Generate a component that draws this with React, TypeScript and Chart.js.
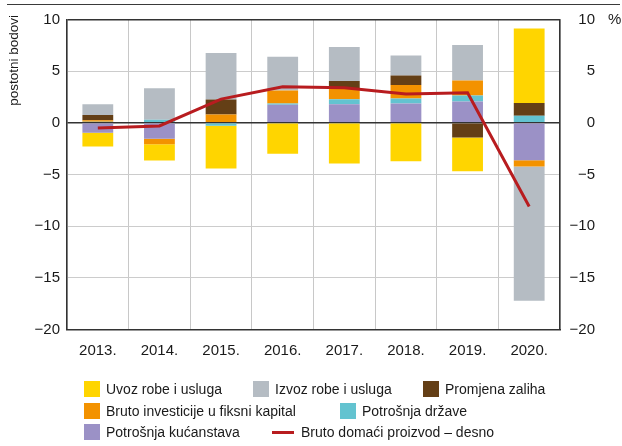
import React, { useEffect, useRef } from 'react';
import { Chart, registerables } from 'chart.js';
Chart.register(...registerables);

const years = ['2013.', '2014.', '2015.', '2016.', '2017.', '2018.', '2019.', '2020.'];
const households = [-0.97, -1.55, 0, 1.74, 1.8, 1.87, 2.06, -3.61];
const government = [0.1, 0.29, -0.29, 0.13, 0.48, 0.48, 0.58, 0.68];
const investment = [0.15, -0.52, 0.8, 1.26, 1.0, 1.32, 1.45, -0.61];
const inventories = [0.52, 0, 1.45, 0, 0.77, 0.9, -1.42, 1.23];
const exportsGS = [1.03, 3.06, 4.52, 3.26, 3.29, 1.94, 3.45, -13.0];
const importsGS = [-1.32, -1.58, -4.13, -3.0, -3.94, -3.71, -3.26, 7.23];
const gdp = [-0.5, -0.3, 2.3, 3.5, 3.4, 2.8, 2.9, -8.1];

const FONT = '"Liberation Sans", Arial, sans-serif';
const TEXT = '#1a1a1a';

const C = {
  yellow: '#ffd500',
  gray: '#b5bcc3',
  brown: '#643f16',
  orange: '#f39200',
  teal: '#63c3d0',
  purple: '#9b91c6',
  red: '#b81c1f',
};

const legendRows = [
  [
    { label: 'Uvoz robe i usluga', color: C.yellow, x: 84 },
    { label: 'Izvoz robe i usluga', color: C.gray, x: 253 },
    { label: 'Promjena zaliha', color: C.brown, x: 423 },
  ],
  [
    { label: 'Bruto investicije u fiksni kapital', color: C.orange, x: 84 },
    { label: 'Potrošnja države', color: C.teal, x: 340 },
  ],
  [
    { label: 'Potrošnja kućanstava', color: C.purple, x: 84 },
    { label: 'Bruto domaći proizvod – desno', color: C.red, x: 272, line: true },
  ],
];
const rowY = [389, 410.5, 432];

const minusFmt = (v: number) => (v < 0 ? '\u2212' + Math.abs(v) : String(v));

const overlay = {
  id: 'overlay',
  afterDraw(chart: any) {
    const ctx = chart.ctx;
    const y2 = chart.scales.y2;
    ctx.save();
    ctx.fillStyle = TEXT;
    ctx.font = `15px ${FONT}`;
    ctx.textAlign = 'left';
    ctx.textBaseline = 'middle';
    ctx.fillText('%', chart.chartArea.right + 48, y2.getPixelForValue(10) + 0.5);
    ctx.font = `13.5px ${FONT}`;
    ctx.translate(14, 15);
    ctx.rotate(-Math.PI / 2);
    ctx.textAlign = 'right';
    ctx.fillText('postotni bodovi', 0, 0);
    ctx.restore();
  },
};

export default function App() {
  const ref = useRef<HTMLCanvasElement>(null);
  useEffect(() => {
    if (!ref.current) return;
    const bar = (label: string, data: number[], color: string) => ({
      type: 'bar' as const,
      label,
      data,
      backgroundColor: color,
      borderWidth: 0,
      yAxisID: 'y',
      order: 1,
      barPercentage: 0.5,
      categoryPercentage: 1,
    });
    const chart = new Chart(ref.current, {
      type: 'bar',
      data: {
        labels: years,
        datasets: [
          {
            type: 'line' as const,
            label: 'Bruto domaći proizvod – desno',
            data: gdp,
            borderColor: C.red,
            backgroundColor: C.red,
            borderWidth: 3,
            pointRadius: 0,
            tension: 0,
            yAxisID: 'y2',
            order: 0,
          } as any,
          bar('Potrošnja kućanstava', households, C.purple),
          bar('Potrošnja države', government, C.teal),
          bar('Bruto investicije u fiksni kapital', investment, C.orange),
          bar('Promjena zaliha', inventories, C.brown),
          bar('Izvoz robe i usluga', exportsGS, C.gray),
          bar('Uvoz robe i usluga', importsGS, C.yellow),
        ],
      },
      options: {
        responsive: false,
        animation: false,
        layout: { padding: { top: 19.5, bottom: 76.5, left: 0, right: 27 } },
        plugins: { legend: { display: false }, tooltip: { enabled: false } },
        scales: {
          x: {
            stacked: true,
            grid: { color: '#c8c8c8', lineWidth: 1, drawTicks: false, offset: true },
            border: { color: '#333', width: 1.5 },
            ticks: { color: TEXT, font: { family: FONT, size: 15 }, padding: 12 },
            afterFit: (s: any) => { s.height = 40; },
          },
          y: {
            stacked: true,
            position: 'left',
            min: -20,
            max: 10,
            ticks: { stepSize: 5, color: TEXT, font: { family: FONT, size: 15 }, padding: 7, callback: (v: any) => minusFmt(Number(v)) },
            grid: {
              drawTicks: false,
              lineWidth: (c: any) => (c.tick && (c.tick.value === 0 || c.tick.value === 10) ? 1.5 : 1),
              color: (c: any) => (c.tick && (c.tick.value === 0 || c.tick.value === 10) ? '#333' : '#cccccc'),
            },
            border: { color: '#333', width: 1.5 },
            afterFit: (s: any) => { s.width = 67; },
          },
          y2: {
            position: 'right',
            min: -20,
            max: 10,
            ticks: { stepSize: 5, color: TEXT, font: { family: FONT, size: 15 }, padding: 10, crossAlign: 'far', callback: (v: any) => minusFmt(Number(v)) },
            grid: { display: false, drawTicks: false },
            border: { color: '#333', width: 1.5 },
            afterFit: (s: any) => { s.width = 35; },
          },
        },
      } as any,
      plugins: [overlay],
    });
    return () => chart.destroy();
  }, []);

  return (
    <div style={{ position: 'fixed', left: 0, top: 0, width: 622, height: 446, background: '#fff', fontFamily: FONT }}>
      <div style={{ position: 'absolute', left: 7, top: 4, width: 613, height: 1, background: '#3a3a3a' }} />
      <canvas ref={ref} width={622} height={446} style={{ position: 'absolute', left: 0, top: 0, width: 622, height: 446 }} />
      {legendRows.map((row, ri) =>
        row.map((it: any, i) => (
          <div
            key={ri + '-' + i}
            style={{
              position: 'absolute',
              left: it.x,
              top: rowY[ri] - 10,
              height: 20,
              display: 'flex',
              alignItems: 'center',
              whiteSpace: 'nowrap',
              fontSize: 14,
              color: TEXT,
            }}
          >
            {it.line ? (
              <span style={{ display: 'inline-block', width: 22, height: 3, background: it.color, marginRight: 7 }} />
            ) : (
              <span style={{ display: 'inline-block', width: 16, height: 16, background: it.color, marginRight: 6 }} />
            )}
            <span>{it.label}</span>
          </div>
        ))
      )}
    </div>
  );
}
